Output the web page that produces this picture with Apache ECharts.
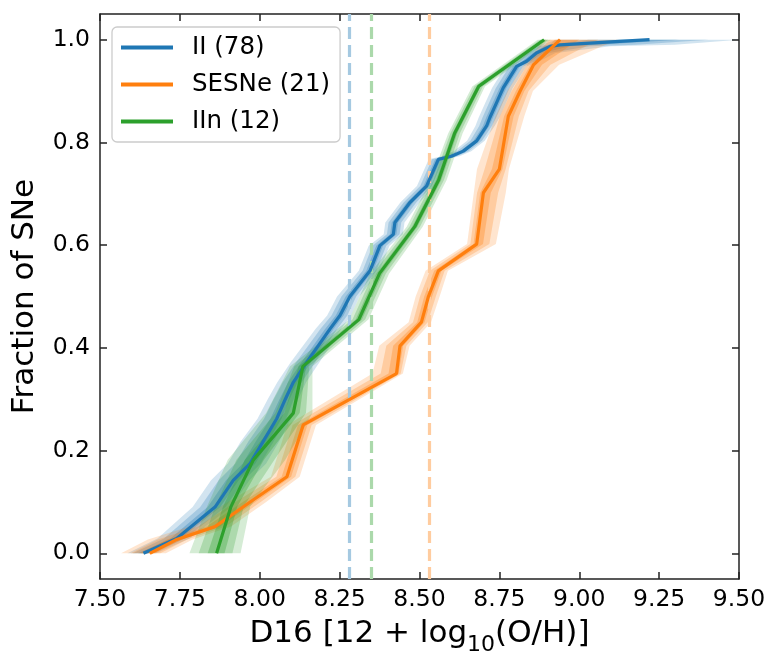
<!DOCTYPE html>
<html>
<head>
<meta charset="utf-8">
<script src="https://cdn.jsdelivr.net/npm/echarts@6/dist/echarts.min.js"></script>
<style>
html,body{margin:0;padding:0;background:#fff;}
#chart{width:781px;height:668px;}
</style>
</head>
<body>
<div id="chart"></div>
<script>
// ---- tick labels ----
const xTickValues = [7.50, 7.75, 8.00, 8.25, 8.50, 8.75, 9.00, 9.25, 9.50];
const yTickValues = [0.0, 0.2, 0.4, 0.6, 0.8, 1.0];

// ---- series names ----
const seriesNames = ['II (78)', 'SESNe (21)', 'IIn (12)'];

// ---- II (78): CDF vertices and band half-widths (in dex) ----
const iiX = [7.636, 7.740, 7.860, 7.917, 7.970, 8.010, 8.053, 8.080, 8.105, 8.147, 8.220, 8.251, 8.282, 8.345, 8.376, 8.418, 8.423, 8.470, 8.522, 8.559, 8.600, 8.637, 8.679, 8.710, 8.720, 8.741, 8.762, 8.804, 8.835, 8.866, 8.908, 8.940, 9.220];
const iiY = [0.000, 0.029, 0.090, 0.142, 0.175, 0.217, 0.262, 0.300, 0.333, 0.372, 0.437, 0.463, 0.500, 0.550, 0.599, 0.621, 0.644, 0.683, 0.715, 0.767, 0.773, 0.783, 0.803, 0.832, 0.848, 0.877, 0.906, 0.948, 0.958, 0.974, 0.987, 0.990, 1.000];
const iiLo = [0.050, 0.060, 0.070, 0.070, 0.070, 0.070, 0.060, 0.055, 0.050, 0.050, 0.045, 0.040, 0.040, 0.035, 0.035, 0.030, 0.030, 0.030, 0.030, 0.030, 0.030, 0.030, 0.030, 0.035, 0.035, 0.035, 0.035, 0.035, 0.040, 0.040, 0.050, 0.060, 0.290];
const iiHi = [0.040, 0.040, 0.050, 0.050, 0.050, 0.050, 0.045, 0.040, 0.040, 0.040, 0.035, 0.035, 0.030, 0.030, 0.030, 0.030, 0.030, 0.030, 0.025, 0.025, 0.025, 0.025, 0.025, 0.025, 0.030, 0.030, 0.030, 0.030, 0.040, 0.060, 0.190, 0.360, 0.280];

// ---- SESNe (21) ----
const sesX = [7.656, 7.740, 7.860, 7.970, 8.085, 8.136, 8.428, 8.439, 8.506, 8.528, 8.559, 8.679, 8.700, 8.750, 8.778, 8.815, 8.857, 8.940];
const sesY = [0.000, 0.027, 0.052, 0.100, 0.149, 0.250, 0.350, 0.404, 0.450, 0.500, 0.550, 0.602, 0.702, 0.748, 0.851, 0.900, 0.951, 1.000];
const sesLo = [0.090, 0.090, 0.080, 0.070, 0.050, 0.050, 0.075, 0.065, 0.040, 0.040, 0.040, 0.030, 0.030, 0.070, 0.040, 0.040, 0.030, 0.050];
const sesHi = [0.050, 0.050, 0.050, 0.050, 0.040, 0.040, 0.020, 0.030, 0.030, 0.035, 0.030, 0.060, 0.070, 0.030, 0.050, 0.040, 0.080, 0.180];

// ---- IIn (12) ----
const iinX = [7.865, 7.910, 7.980, 8.105, 8.135, 8.310, 8.375, 8.485, 8.560, 8.610, 8.685, 8.890];
const iinY = [0.000, 0.091, 0.182, 0.273, 0.364, 0.455, 0.545, 0.636, 0.727, 0.818, 0.909, 1.000];
const iinLo = [0.085, 0.075, 0.080, 0.085, 0.040, 0.030, 0.030, 0.025, 0.025, 0.020, 0.020, 0.020];
const iinHi = [0.075, 0.060, 0.100, 0.060, 0.030, 0.030, 0.030, 0.025, 0.025, 0.025, 0.020, 0.020];

// ---- median markers (dashed vertical lines) ----
const medianValues = [8.283, 8.530, 8.346]; // II, SESNe, IIn

const colors = ['#1f77b4', '#ff7f0e', '#2ca02c'];
const fadedColors = ['#a5c9e1', '#ffcc9f', '#abd9ab'];
const FONT = 'DejaVu Sans';

const groups = [
  {x: iiX, y: iiY, lo: iiLo, hi: iiHi},
  {x: sesX, y: sesY, lo: sesLo, hi: sesHi},
  {x: iinX, y: iinY, lo: iinLo, hi: iinHi}
];

function bandSeries(g, color, k, op, z) {
  return {
    type: 'custom',
    silent: true,
    clip: true,
    z: z,
    data: g.y.map((v, i) => [g.x[i], v]),
    encode: {x: 0, y: 1},
    renderItem: function (params, api) {
      if (params.dataIndex !== 0) return null;
      const pts = [];
      for (let i = 0; i < g.x.length; i++) pts.push(api.coord([g.x[i] - g.lo[i] * k, g.y[i]]));
      for (let i = g.x.length - 1; i >= 0; i--) pts.push(api.coord([g.x[i] + g.hi[i] * k, g.y[i]]));
      return {type: 'polygon', shape: {points: pts}, style: {fill: color, opacity: op}};
    }
  };
}

const series = [];
// dashed median lines
medianValues.forEach((m, i) => {
  series.push({
    type: 'line', data: [], silent: true, z: 1,
    markLine: {
      silent: true, symbol: ['none', 'none'], label: {show: false},
      lineStyle: {color: fadedColors[i], type: [12, 6], width: 3.2},
      data: [{xAxis: m}]
    }
  });
});
// bands
const bandLayers = [[1.0, 0.2], [0.66, 0.24], [0.33, 0.3]];
groups.forEach((g, i) => {
  bandLayers.forEach(([k, op]) => series.push(bandSeries(g, colors[i], k, op, 2)));
});
// lines
groups.forEach((g, i) => {
  series.push({
    type: 'line', name: seriesNames[i], z: 5,
    data: g.y.map((v, j) => [g.x[j], v]),
    showSymbol: false, symbol: 'none',
    color: colors[i],
    lineStyle: {color: colors[i], width: 3.2},
    itemStyle: {color: colors[i]},
    clip: true
  });
});

const axisLineStyle = {color: '#222', width: 1.5};
const tickStyle = {color: '#222', width: 1.5};

const option = {
  animation: false,
  backgroundColor: '#ffffff',
  grid: {left: 100, right: 42, top: 14, bottom: 89},
  legend: {
    data: seriesNames,
    orient: 'vertical', left: 112, top: 27,
    padding: [8, 10, 8, 9],
    itemWidth: 52, itemHeight: 4, itemGap: 12,
    icon: 'rect',
    backgroundColor: 'rgba(255,255,255,0.8)',
    borderColor: '#cccccc', borderWidth: 1.3, borderRadius: 5,
    textStyle: {fontFamily: FONT, fontSize: 24.5, color: '#000', padding: [0, 0, 0, 14]}
  },
  xAxis: [
    {
      type: 'value', min: 7.5, max: 9.5, interval: 0.25,
      position: 'bottom',
      name: '{n|D16 [12 + log}{s|10}{n|(O/H)]}',
      nameLocation: 'middle', nameGap: 33,
      nameTextStyle: {
        rich: {
          n: {fontFamily: FONT, fontSize: 31, color: '#000', lineHeight: 44, verticalAlign: 'middle'},
          s: {fontFamily: FONT, fontSize: 22, color: '#000', lineHeight: 44, verticalAlign: 'bottom'}
        }
      },
      axisLine: {show: true, onZero: false, lineStyle: axisLineStyle},
      axisTick: {show: true, inside: true, length: 7, lineStyle: tickStyle},
      axisLabel: {fontFamily: FONT, fontSize: 23.5, color: '#000', margin: 9,
        formatter: v => v.toFixed(2)},
      splitLine: {show: false}
    },
    {
      type: 'value', min: 7.5, max: 9.5, interval: 0.25,
      position: 'top',
      axisLine: {show: true, onZero: false, lineStyle: axisLineStyle},
      axisTick: {show: true, inside: true, length: 7, lineStyle: tickStyle},
      axisLabel: {show: false},
      splitLine: {show: false}
    }
  ],
  yAxis: [
    {
      type: 'value', min: -0.05, max: 1.05,
      position: 'left',
      name: 'Fraction of SNe',
      nameLocation: 'middle', nameGap: 60,
      nameTextStyle: {fontFamily: FONT, fontSize: 31, color: '#000'},
      axisLine: {show: true, onZero: false, lineStyle: axisLineStyle},
      axisTick: {show: true, inside: true, length: 7, lineStyle: tickStyle, customValues: yTickValues},
      axisLabel: {fontFamily: FONT, fontSize: 23.5, color: '#000', margin: 10,
        customValues: yTickValues, formatter: v => Number(v).toFixed(1)},
      splitLine: {show: false}
    },
    {
      type: 'value', min: -0.05, max: 1.05,
      position: 'right',
      axisLine: {show: true, onZero: false, lineStyle: axisLineStyle},
      axisTick: {show: true, inside: true, length: 7, lineStyle: tickStyle, customValues: yTickValues},
      axisLabel: {show: false, customValues: yTickValues},
      splitLine: {show: false}
    }
  ],
  series: series
};

const chart = echarts.init(document.getElementById('chart'), null, {renderer: 'canvas'});
chart.setOption(option);
</script>
</body>
</html>
